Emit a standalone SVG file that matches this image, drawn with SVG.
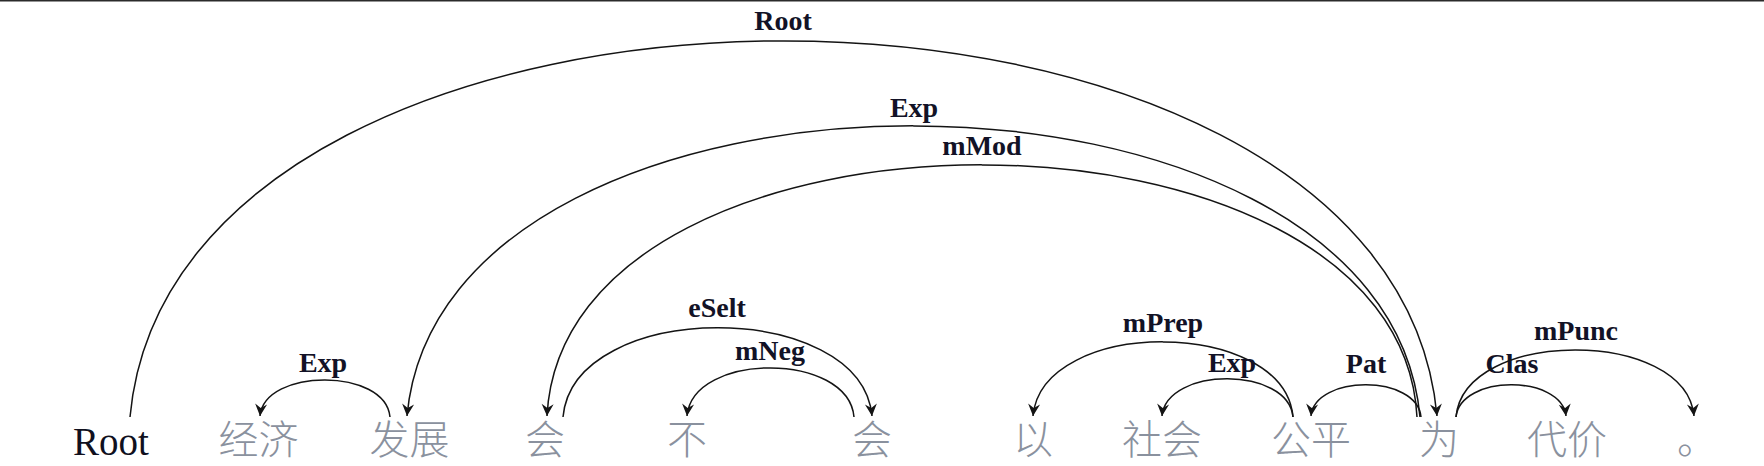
<svg xmlns="http://www.w3.org/2000/svg" width="1764" height="466" viewBox="0 0 1764 466">
<style>
.w{font-family:"Noto Sans CJK SC","Noto Sans",sans-serif;font-size:40px;font-weight:300;fill:#8a919e;text-anchor:middle}
.r{font-family:"Liberation Serif","Times New Roman",serif;font-size:39px;fill:#10101e;text-anchor:middle}
.e{fill:none;stroke:#141414;stroke-width:1.5;marker-end:url(#ah)}
.l{font-family:"Liberation Serif","Times New Roman",serif;font-size:28px;font-weight:bold;fill:#121226;text-anchor:middle}
</style>
<defs>
<marker id="ah" markerUnits="userSpaceOnUse" markerWidth="16" markerHeight="16" viewBox="-14 -8 16 16" refX="0" refY="0" orient="auto">
<path d="M0,0 L-12,-6 L-8,0 L-12,6 Z" fill="#141414"/>
</marker>
</defs>
<rect x="0" y="0" width="1764" height="1.5" fill="#2b2b2b"/>
<g id="nodes">
<g id="n0"><text class="r" x="111" y="455">Root</text></g>
<g id="n1"><text class="w" x="258.5" y="454">经济</text></g>
<g id="n2"><text class="w" x="409.5" y="454">发展</text></g>
<g id="n3"><text class="w" x="545" y="454">会</text></g>
<g id="n4"><text class="w" x="687" y="454">不</text></g>
<g id="n5"><text class="w" x="872" y="454">会</text></g>
<g id="n6"><text class="w" x="1033" y="454">以</text></g>
<g id="n7"><text class="w" x="1162" y="454">社会</text></g>
<g id="n8"><text class="w" x="1311" y="454">公平</text></g>
<g id="n9"><text class="w" x="1439" y="454">为</text></g>
<g id="n10"><text class="w" x="1567" y="454">代价</text></g>
<g id="n11"><text class="w" x="1677" y="454" style="text-anchor:start">。</text></g>
</g>
<g id="connectors">
<g id="e-root"><path class="e" d="M130,417 C175.7,-84.3 1391.3,-84.3 1437,416"/><text class="l" x="783" y="30">Root</text></g>
<g id="e-exp1"><path class="e" d="M1420,417 C1384.5,29 442.5,29 407,416"/><text class="l" x="914" y="117">Exp</text></g>
<g id="e-mmod"><path class="e" d="M1417,417 C1399.6,81 564.4,81 547,416"/><text class="l" x="982" y="155">mMod</text></g>
<g id="e-exp2"><path class="e" d="M390,417 C385.5,367.7 264.5,367.7 260,416"/><text class="l" x="323" y="372">Exp</text></g>
<g id="e-eselt"><path class="e" d="M563,417 C573.8,298.3 861.2,298.3 872,416"/><text class="l" x="717" y="317">eSelt</text></g>
<g id="e-mneg"><path class="e" d="M854,417 C848.2,351.7 692.8,351.7 687,416"/><text class="l" x="770" y="360">mNeg</text></g>
<g id="e-mprep"><path class="e" d="M1293,417 C1283.9,317 1042.1,317 1033,416"/><text class="l" x="1163" y="332">mPrep</text></g>
<g id="e-exp3"><path class="e" d="M1293,417 C1288.4,366.3 1166.6,366.3 1162,416"/><text class="l" x="1232" y="372">Exp</text></g>
<g id="e-pat"><path class="e" d="M1421,417 C1417.1,374.3 1314.9,374.3 1311,416"/><text class="l" x="1366" y="373">Pat</text></g>
<g id="e-clas"><path class="e" d="M1456,417 C1460.4,374.3 1561.6,374.3 1566,416"/><text class="l" x="1512" y="373">Clas</text></g>
<g id="e-mpunc"><path class="e" d="M1456,417 C1464.3,327.7 1685.7,327.7 1694,416"/><text class="l" x="1576" y="340">mPunc</text></g>
</g>
</svg>
